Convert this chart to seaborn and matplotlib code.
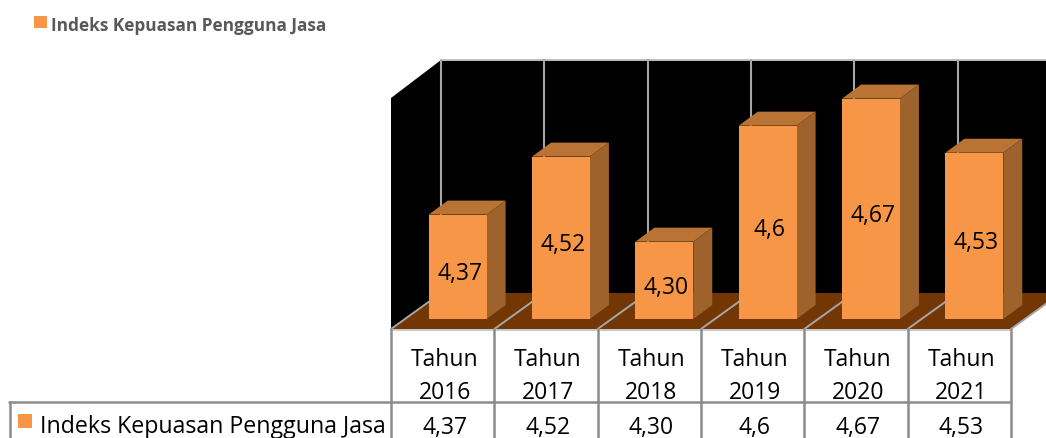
import pandas as pd
import matplotlib
matplotlib.use('Agg')
import matplotlib.pyplot as plt
from matplotlib.patches import Polygon, Rectangle
import seaborn as sns

# Data
years = ['Tahun 2016', 'Tahun 2017', 'Tahun 2018', 'Tahun 2019', 'Tahun 2020', 'Tahun 2021']
values = [4.37, 4.52, 4.30, 4.60, 4.67, 4.53]
value_labels = ['4,37', '4,52', '4,30', '4,6', '4,67', '4,53']
series_name = 'Indeks Kepuasan Pengguna Jasa'

W, H = 1046, 438
ORANGE = '#F79646'
TOP = '#B97335'
SIDE = '#9E622D'
FLOOR = '#733605'
GRID = '#A6A6A6'
LINE = '#8C8C8C'
FONT = ['Open Sans', 'DejaVu Sans']
TEXT_SIZE = 16.5

sns.set_style('white')
plt.rcParams['font.family'] = FONT

df = pd.DataFrame({'tahun': years, 'nilai': values})

fig = plt.figure(figsize=(W / 100, H / 100), dpi=100)

# pixel axes for the 3D box and the table
bg = fig.add_axes([0, 0, 1, 1], zorder=0)
bg.set_xlim(0, W)
bg.set_ylim(H, 0)
bg.axis('off')

# front plane of the bars
left, base, cell = 406, 319, 620 / 6
ax = fig.add_axes([left / W, (H - base) / H, 620 / W, 232 / H], zorder=1)
sns.barplot(data=df, x='tahun', y='nilai', color=ORANGE, saturation=1, width=0.56,
            linewidth=0, ax=ax)
ax.set_xlim(-0.5, 5.5)
ax.set_ylim(4.1, 4.7)
ax.axis('off')
ax.patch.set_alpha(0)

# walls and floor
x0, xr = 391, 1011
bg.add_patch(Polygon([(x0, 329), (x0, 98), (441, 60), (W, 60), (W, 303), (xr, 329)], color='black', lw=0))
bg.add_patch(Polygon([(x0, 329), (441, 293), (W, 293), (W, 303), (xr, 329)], color=FLOOR, lw=0))
bg.plot([441, W], [60, 60], color='#BFBFBF', lw=1.4)
for i in range(7):
    gx = x0 + i * cell
    bg.plot([gx + 50, gx + 50], [60, 293], color=GRID, lw=1.5)
    bg.plot([gx, gx + 50], [329, 293], color=GRID, lw=1.4)

# 3D faces from the bars that seaborn drew
dx, dy = 19, -14
fig.canvas.draw()
for bar in ax.patches:
    (xa, ya), (xb, yb) = ax.transData.transform(
        [(bar.get_x(), bar.get_height()), (bar.get_x() + bar.get_width(), 4.1)])
    ya, yb = H - ya, H - yb
    bg.add_patch(Polygon([(xa, ya), (xb, ya), (xb + dx, ya + dy), (xa + dx, ya + dy)], color=TOP, lw=0, zorder=4))
    bg.add_patch(Polygon([(xb, ya), (xb + dx, ya + dy), (xb + dx, yb + dy), (xb, yb)], color=SIDE, lw=0, zorder=4))

for i, (v, lab) in enumerate(zip(values, value_labels)):
    ax.text(i + 0.02, (v + 4.1) / 2 - 0.019, lab, ha='center', va='center', fontsize=TEXT_SIZE,
            color='black', zorder=6)

# data table
bg.plot([x0, xr], [329.5, 329.5], color='#C8C8C8', lw=1.4, zorder=6)
bg.plot([9, xr], [402, 402], color=LINE, lw=1.8, zorder=6)
bg.plot([9.5, 9.5], [402, H], color=LINE, lw=1.8, zorder=6)
for i in range(7):
    gx = x0 + i * cell
    bg.plot([gx, gx], [329, H], color=LINE, lw=1.8, zorder=6)
for i, (y, lab) in enumerate(zip(years, value_labels)):
    cx = x0 + (i + 0.5) * cell + 2
    word, yr = y.split()
    bg.text(cx, 360, word, ha='center', va='center', fontsize=TEXT_SIZE, color='black')
    bg.text(cx, 393, yr, ha='center', va='center', fontsize=TEXT_SIZE, color='black')
    bg.text(cx, 428, lab, ha='center', va='center', fontsize=TEXT_SIZE, color='black')

bg.add_patch(Rectangle((18, 414), 14, 14, color=ORANGE, lw=0))
bg.text(40, 427, series_name, ha='left', va='center', fontsize=16.7, color='black')

# legend on top
bg.add_patch(Rectangle((34, 16), 13, 12, color=ORANGE, lw=0))
bg.text(51, 26, series_name, ha='left', va='center', fontsize=12.4, fontweight='bold', color='#595959')

fig.savefig('out.png', dpi=100)
